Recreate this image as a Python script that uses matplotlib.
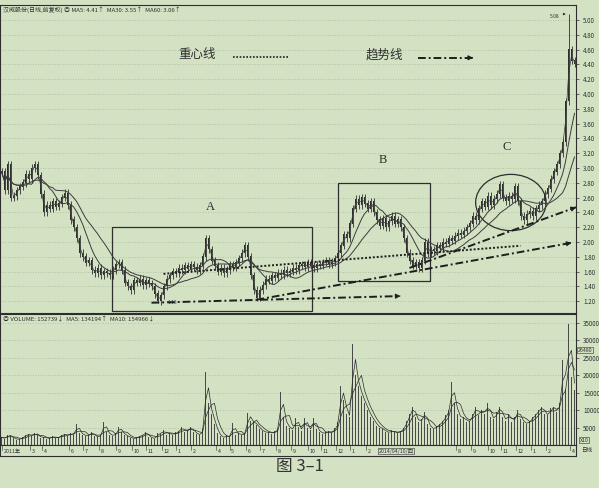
import numpy as np
import pandas as pd
import matplotlib.pyplot as plt
from matplotlib.patches import Rectangle, Ellipse

plt.rcParams['font.family'] = ['Noto Sans CJK SC', 'DejaVu Sans']

# closing prices, one bar per ~4 trading days
close = [2.95, 2.70, 3.05, 2.60,
         2.62, 2.70, 2.75,
         2.80, 2.92, 2.85, 3.00,
         3.05, 2.90,
         2.65, 2.40,
         2.50, 2.45, 2.55, 2.48, 2.52, 2.60, 2.66,
         2.50, 2.30,
         2.20, 2.05, 1.85,
         1.80, 1.72, 1.75,
         1.62, 1.58, 1.65, 1.55,
         1.60, 1.58, 1.55, 1.62,
         1.70, 1.72, 1.62,
         1.45, 1.40, 1.35, 1.48,
         1.45, 1.50, 1.42, 1.48, 1.44, 1.40,
         1.30, 1.20, 1.28,
         1.40, 1.50, 1.55,
         1.60, 1.58, 1.65, 1.62, 1.68, 1.64, 1.70, 1.66, 1.62, 1.68,
         1.80, 2.05, 1.90,
         1.75, 1.68, 1.60, 1.65, 1.58, 1.62, 1.70, 1.66, 1.72, 1.78,
         1.85, 1.95, 1.80,
         1.55, 1.35, 1.25,
         1.35, 1.42, 1.50, 1.48, 1.55,
         1.52, 1.58, 1.55, 1.62, 1.58, 1.60, 1.65, 1.62, 1.68, 1.70,
         1.66, 1.72, 1.68, 1.65, 1.70, 1.68, 1.72, 1.75, 1.70, 1.73, 1.78,
         1.85, 1.95, 2.10, 2.05,
         2.25, 2.45, 2.58, 2.50,
         2.60, 2.52, 2.45, 2.55, 2.40,
         2.30, 2.22, 2.32, 2.20, 2.28,
         2.35, 2.25, 2.30, 2.20,
         2.05, 1.85, 1.75, 1.68,
         1.72, 1.65, 1.75, 2.00,
         1.85, 1.90, 1.88, 1.95,
         1.92, 2.00, 1.98, 2.05, 2.02,
         2.08, 2.12, 2.10, 2.15, 2.20,
         2.25, 2.35, 2.30, 2.45,
         2.55, 2.48, 2.62, 2.50,
         2.58, 2.65, 2.78, 2.60,
         2.55, 2.62, 2.58, 2.75,
         2.55, 2.35, 2.30, 2.38,
         2.42, 2.35, 2.45, 2.50,
         2.55, 2.65, 2.72, 2.85,
         2.95, 3.05, 3.20,
         3.35, 3.90, 4.60,
         4.45, 4.41]
high_marks = {189: 5.08}
low_marks = {52: 1.18}

volume = [2200, 1800, 3000, 2500, 2000, 1500, 1800, 2200, 2800, 3200,
          2500, 3500, 2800, 2000, 2400, 1800, 2000, 2600, 1900, 2300,
          2800, 3200, 2600, 3500, 2900,
          6000,
          3500, 3000, 2600, 2800, 3800, 2500, 2200, 3000,
          6600,
          3800, 3000, 2600, 3300,
          5200,
          3800, 2800, 2500, 2000, 1800, 2200, 2600, 2900, 3800, 2400, 2000, 1800, 3500,
          3200, 4300, 3000, 3500, 2800, 3600, 4000, 5200, 3800, 4200, 5200, 3800, 3200, 2800,
          4500, 20800, 12000, 9000, 6000, 3500,
          2500, 2000, 2800, 2200, 6400, 3000, 3400, 2800, 3200,
          9200, 7000, 6500, 5800, 4500, 4000, 3500, 3800, 3200,
          4000, 4500, 15300, 8000, 5500, 5000, 4200, 7800, 5200,
          4000, 7800, 5000, 4200, 7800, 4500, 3800, 3200, 3600, 4000, 3500,
          4800, 6500, 16800, 13000, 9000, 8000, 28900, 20200, 16800, 14000, 12000, 10000, 8100, 7000, 5500,
          5000, 4500, 3800, 3500, 4200, 3600, 3500, 4000,
          5000, 7000, 9000, 11000, 8000, 6500, 7500, 9500, 6000, 5000, 4500, 5500,
          6000, 7000, 8500, 10000, 18000, 12000, 9000, 7500, 8000, 6500, 7000, 9000, 11000, 8500,
          10000, 9000, 12000, 8000, 7500, 9500, 11000, 8000, 7000, 9000, 6500, 8000, 10000, 7500, 6500, 6000,
          7000, 8000, 9000, 10000, 11000, 9000, 8500, 10500, 11000, 9500, 12000, 24500, 16000, 34700, 19600, 15900]

price_ticks = [1.20, 1.40, 1.60, 1.80, 2.00, 2.20, 2.40, 2.60, 2.80, 3.00,
               3.20, 3.40, 3.60, 3.80, 4.00, 4.20, 4.40, 4.60, 4.80, 5.00]
vol_ticks = [5000, 10000, 15000, 20000, 25000, 30000, 35000]
month_labels = ['2011年', '3', '4', '6', '7', '8', '9', '10', '11', '12', '1', '2',
                '4', '5', '6', '7', '8', '9', '10', '11', '12', '1', '2',
                '8', '9', '10', '11', '12', '1', '2', '4']
month_idx = [0, 9.5, 13.5, 22.5, 27, 32.5, 38, 43.5, 48, 53.5, 58, 63,
             71.5, 76, 81.5, 86, 91.5, 96.5, 102, 106.5, 111.5, 116, 121.5,
             151.5, 156.5, 162, 166.5, 171.5, 176.5, 181.5, 189.5]

BG = '#d4e2c4'
INK = '#2e2e2e'
GRID = '#a9b79c'
DASHDOT = (0, (4, 1.5, 1, 1.5))

c = pd.Series(close)
o = c.shift(1).fillna(c.iloc[0])
hi = np.maximum(o, c) + 0.05
lo = np.minimum(o, c) - 0.05
for k, v in high_marks.items():
    hi[k] = v
for k, v in low_marks.items():
    lo[k] = v
x = np.arange(len(close))
ma5 = c.rolling(2, min_periods=1).mean()
ma30 = c.rolling(8, min_periods=1).mean()
ma60 = c.rolling(16, min_periods=1).mean()

vol = pd.Series(volume)
xv = np.arange(len(volume))
vma5 = vol.rolling(2, min_periods=1).mean()
vma10 = vol.rolling(4, min_periods=1).mean()

fig = plt.figure(figsize=(5.99, 4.88), dpi=100, facecolor=BG)
W, H = 599.0, 488.0
ax = fig.add_axes([0, 1 - 313 / H, 576 / W, 308 / H], facecolor=BG)
axv = fig.add_axes([0, 1 - 445 / H, 576 / W, 131 / H], facecolor=BG)
axd = fig.add_axes([0, 1 - 456 / H, 576 / W, 11 / H], facecolor=BG)

# price panel
ax.vlines(x, lo, hi, color=INK, lw=0.6)
ax.bar(x, np.abs(c - o) + 0.005, bottom=np.minimum(o, c), width=0.5, color=INK, lw=0)
ax.plot(x, ma5, color='#3c3c3c', lw=0.5)
ax.plot(x, ma30, color='#3c3c3c', lw=0.7)
ax.plot(x, ma60, color='#3c3c3c', lw=0.7)
ax.set_xlim(-0.5, len(close) - 0.5)
ax.set_ylim(1.041, 5.203)
ax.yaxis.tick_right()
ax.set_yticks(price_ticks)
ax.set_yticklabels(['%.2f' % t for t in price_ticks])
ax.set_xticks([])
for t in price_ticks:
    ax.axhline(t, color=GRID, lw=0.6, ls=(0, (1, 2)), zorder=0)

# annotations
ax.add_patch(Rectangle((36.8, 1.068), 66.8, 1.135, fill=False, ec=INK, lw=0.9))
ax.add_patch(Rectangle((112.2, 1.473), 30.5, 1.324, fill=False, ec=INK, lw=0.9))
ax.add_patch(Ellipse((169.8, 2.534), 23.5, 0.76, fill=False, ec=INK, lw=0.9))
ax.text(69.5, 2.47, 'A', family='Liberation Serif', fontsize=9, color=INK, ha='center', va='center')
ax.text(127.2, 3.11, 'B', family='Liberation Serif', fontsize=9, color=INK, ha='center', va='center')
ax.text(168.5, 3.28, 'C', family='Liberation Serif', fontsize=9, color=INK, ha='center', va='center')


def trend(x0, y0, x1, y1, ls, head=True):
    ax.plot([x0, x1], [y0, y1], color='#1e1e1e', lw=1.4, ls=ls)
    if head:
        ax.annotate('', xy=(x1, y1), xytext=(x1 - 0.6 * (x1 - x0) / abs(x1 - x0), y1 - 0.6 * (y1 - y0) / abs(x1 - x0)),
                    arrowprops=dict(arrowstyle='-|>', color='#1e1e1e', lw=0.8, mutation_scale=7))


trend(54, 1.57, 173, 1.95, (0, (1, 1)), head=False)
trend(50, 1.18, 133, 1.27, DASHDOT)
trend(85, 1.22, 190, 1.99, DASHDOT)
trend(136, 1.65, 191.5, 2.47, DASHDOT)

ax.text(65.2, 4.53, '重心线', fontsize=9, color=INK, ha='center', va='center')
ax.plot([77.2, 95.5], [4.50, 4.50], color='#1e1e1e', lw=1.2, ls=(0, (1, 1)))
ax.text(127.5, 4.53, '趋势线', fontsize=9, color=INK, ha='center', va='center')
trend(138.8, 4.49, 157.2, 4.49, DASHDOT)

ax.text(184.5, 5.05, '5.08', fontsize=3.5, color=INK, ha='center', va='center')
ax.annotate('', xy=(189, 5.08), xytext=(186.5, 5.08),
            arrowprops=dict(arrowstyle='-|>', color=INK, lw=0.5, mutation_scale=3))
ax.text(57, 1.18, '1.18', fontsize=3.5, color=INK, ha='center', va='center')
ax.text(0.005, 0.995, '汉威股份(日线,前复权) ◎ MA5: 4.41↑  MA30: 3.55↑  MA60: 3.06↑',
        transform=ax.transAxes, fontsize=4.3, color=INK, ha='left', va='top')

# volume panel
axv.bar(xv, volume, width=0.5, color='#4a4a4a', lw=0)
axv.plot(xv, vma5, color='#2a2a2a', lw=0.5)
axv.plot(xv, vma10, color='#2a2a2a', lw=0.5)
axv.set_xlim(-0.5, len(volume) - 0.5)
axv.set_ylim(0, 37570)
axv.yaxis.tick_right()
axv.set_yticks(vol_ticks)
axv.set_yticklabels([str(t) for t in vol_ticks])
axv.set_xticks([])
for t in vol_ticks:
    axv.axhline(t, color=GRID, lw=0.6, ls=(0, (1, 2)), zorder=0)
axv.text(0.005, 0.985, '◎ VOLUME: 152739↓  MA5: 134194↑  MA10: 154966↓',
         transform=axv.transAxes, fontsize=4.3, color=INK, ha='left', va='top')

# date strip
axd.set_xlim(-0.5, len(close) - 0.5)
axd.set_ylim(0, 1)
axd.set_xticks([])
axd.set_yticks([])
for lab, pos in zip(month_labels, month_idx):
    axd.plot([pos, pos], [0.55, 1], color=INK, lw=0.4)
    axd.text(pos + 0.6, 0.45, lab, fontsize=3.8, color=INK, ha='left', va='center')
axd.text(131.5, 0.45, '2014/04/10/四', fontsize=3.8, color=INK, ha='center', va='center',
         bbox=dict(boxstyle='square,pad=0.15', fc=BG, ec=INK, lw=0.4))
fig.text(587 / W, 1 - 451 / H, '日线', fontsize=4, color=INK, ha='center', va='center')
fig.text(585 / W, 1 - 350 / H, '26480', fontsize=3.8, color=INK, ha='center', va='center',
         bbox=dict(boxstyle='square,pad=0.1', fc=BG, ec=INK, lw=0.4))
fig.text(584 / W, 1 - 440 / H, 'X10', fontsize=3.8, color=INK, ha='center', va='center',
         bbox=dict(boxstyle='square,pad=0.1', fc=BG, ec=INK, lw=0.4))

for a in (ax, axv, axd):
    for s in a.spines.values():
        s.set_color(INK)
        s.set_linewidth(0.8)
    a.tick_params(axis='y', direction='out', length=2, width=0.5, colors=INK,
                  labelsize=4.5, pad=3)

fig.text(0.5, 1 - 466 / H, '图 3–1', fontsize=12, color='#333333', ha='center', va='center')

fig.savefig('out.png', dpi=100, facecolor=BG)
